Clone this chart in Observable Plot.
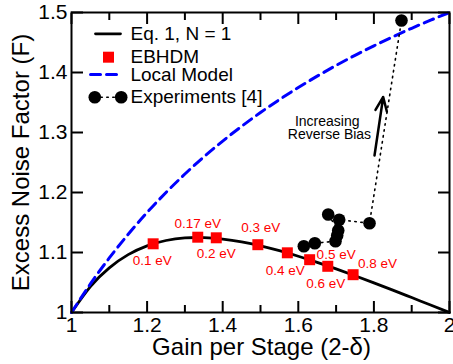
<!DOCTYPE html>
<html><head><meta charset="utf-8">
<script src="https://cdn.jsdelivr.net/npm/d3@7"></script>
<script src="https://cdn.jsdelivr.net/npm/@observablehq/plot@0.6"></script>
<style>body{margin:0;background:#fff}</style>
</head><body><div id="chart"></div>
<script>
// ---- data ----
const eqGain = [1,1.05,1.1,1.15,1.2,1.25,1.3,1.35,1.4,1.45,1.5,1.55,1.6,1.65,1.7,1.75,1.8,1.85,1.9,1.95,2];
const eqF = [1,1.0431,1.0744,1.0964,1.1111,1.12,1.1243,1.1248,1.1224,1.1177,1.1111,1.103,1.0938,1.0836,1.0727,1.0612,1.0494,1.0373,1.0249,1.0125,1];
const localGain = [1,1.05,1.1,1.15,1.2,1.25,1.3,1.35,1.4,1.45,1.5,1.55,1.6,1.65,1.7,1.75,1.8,1.85,1.9,1.95,2];
const localF = [1,1.0476,1.0909,1.1304,1.1667,1.2,1.2308,1.2593,1.2857,1.3103,1.3333,1.3548,1.375,1.3939,1.4118,1.4286,1.4444,1.4595,1.4737,1.4872,1.5];
const ebhdmGain = [1.216,1.334,1.383,1.493,1.571,1.630,1.678,1.745];
const ebhdmF = [1.1145,1.1255,1.1245,1.113,1.0995,1.088,1.077,1.063];
const ebhdmLabels = ["0.1 eV","0.17 eV","0.2 eV","0.3 eV","0.4 eV","0.5 eV","0.6 eV","0.8 eV"];
const expGain = [1.6146,1.6437,1.6984,1.7029,1.7056,1.6791,1.7082,1.7884,1.873];
const expF = [1.1105,1.1155,1.1188,1.1283,1.1367,1.1633,1.1545,1.1488,1.4867];

const xTicks = [1,1.2,1.4,1.6,1.8,2];
const xTickLabels = ["1","1.2","1.4","1.6","1.8","2"];
const xMinorTicks = [1.1,1.3,1.5,1.7,1.9];
const yTicks = [1,1.1,1.2,1.3,1.4,1.5];
const yTickLabels = ["1","1.1","1.2","1.3","1.4","1.5"];

const xTitle = "Gain per Stage (2-δ)";
const yTitle = "Excess Noise Factor (F)";
const legendLabels = ["Eq. 1, N = 1","EBHDM","Local Model","Experiments [4]"];
const annotationLines = ["Increasing","Reverse Bias"];

// ---- placement (styling) ----
const labelOffsets = [[-1,17],[0,-14],[0,16],[3,-17],[-2,17.5],[26.5,-5],[-2,17],[24.5,-11]];
const legendRowF = [1.4645,1.4255,1.3967,1.3588];
const legendSampleGain = [1.0635,1.1296];
const legendMarkGain = 1.0979;
const legendDashGain = [1.0503,1.1296];
const legendCircleGain = [1.0616,1.1315];
const legendTextGain = 1.156;
const arrowPos = [{x1:1.8016,y1:1.2617,x2:1.8246,y2:1.3592}];
const annoPos = [{x:1.6765,y:1.3188},{x:1.6825,y:1.2972}];

const font = "'Liberation Sans', Arial, Helvetica, sans-serif";
const RED = "#ff0000", BLUE = "#0000ff";

const eqData = eqGain.map((g,i)=>({x:g,y:eqF[i]}));
const localData = localGain.map((g,i)=>({x:g,y:localF[i]}));
const ebhdm = ebhdmGain.map((g,i)=>({x:g,y:ebhdmF[i],label:ebhdmLabels[i]}));
const exps = expGain.map((g,i)=>({x:g,y:expF[i]}));
const annoData = annotationLines.map((t,i)=>({...annoPos[i],t}));

const labelMarks = ebhdm.map((d,i)=>Plot.text([d],{x:"x",y:"y",text:"label",fill:RED,fontSize:13.5,
  textAnchor:"middle",lineAnchor:"middle",dx:labelOffsets[i][0],dy:labelOffsets[i][1]}));

const legendTexts = legendLabels.map((t,i)=>({x:legendTextGain,y:legendRowF[i],t}));

const chart = Plot.plot({
  width:453, height:364,
  marginLeft:71, marginRight:4, marginTop:12, marginBottom:52,
  style:{fontFamily:font, background:"white", color:"black"},
  x:{domain:[1,2]},
  y:{domain:[1,1.5]},
  marks:[
    Plot.axisX({anchor:"bottom",ticks:xTicks,tickSize:-11,tickPadding:16,strokeWidth:2,fontSize:21,
      tickFormat:d=>xTickLabels[xTicks.indexOf(d)],label:null}),
    Plot.axisX({anchor:"bottom",ticks:xMinorTicks,tickSize:-7,strokeWidth:2,tickFormat:()=>"",label:null}),
    Plot.axisX({anchor:"top",ticks:xTicks,tickSize:-11,strokeWidth:2,tickFormat:()=>"",label:null}),
    Plot.axisX({anchor:"top",ticks:xMinorTicks,tickSize:-7,strokeWidth:2,tickFormat:()=>"",label:null}),
    Plot.axisY({anchor:"left",ticks:yTicks,tickSize:-12,tickPadding:16,strokeWidth:2,fontSize:21,
      tickFormat:d=>yTickLabels[yTicks.indexOf(d)],label:null}),
    Plot.axisY({anchor:"right",ticks:yTicks,tickSize:-12,strokeWidth:2,tickFormat:()=>"",label:null}),
    Plot.line(eqData,{x:"x",y:"y",stroke:"black",strokeWidth:2.8,curve:"natural"}),
    Plot.line(localData,{x:"x",y:"y",stroke:BLUE,strokeWidth:3,strokeDasharray:"10,6",curve:"natural"}),
    Plot.line(exps,{x:"x",y:"y",stroke:"black",strokeWidth:1.6,strokeDasharray:"1.5,4.5"}),
    Plot.dot(exps,{x:"x",y:"y",r:6.3,fill:"black"}),
    Plot.dot(ebhdm,{x:"x",y:"y",symbol:"square",r:6.2,fill:RED}),
    ...labelMarks,
    Plot.arrow(arrowPos,{x1:"x1",y1:"y1",x2:"x2",y2:"y2",stroke:"black",strokeWidth:2.5,headLength:9,headAngle:45}),
    Plot.text(annoData,{x:"x",y:"y",text:"t",fontSize:14,textAnchor:"middle",lineAnchor:"middle",fill:"black"}),
    // legend
    Plot.line(legendSampleGain.map(g=>({x:g,y:legendRowF[0]})),{x:"x",y:"y",stroke:"black",strokeWidth:2.8}),
    Plot.dot([{x:legendMarkGain,y:legendRowF[1]}],{x:"x",y:"y",symbol:"square",r:6.2,fill:RED}),
    Plot.line(legendDashGain.map(g=>({x:g,y:legendRowF[2]})),{x:"x",y:"y",stroke:BLUE,strokeWidth:3,strokeDasharray:"10,6"}),
    Plot.line(legendCircleGain.map(g=>({x:g,y:legendRowF[3]})),{x:"x",y:"y",stroke:"black",strokeWidth:1.6,strokeDasharray:"1.5,4.5"}),
    Plot.dot(legendCircleGain.map(g=>({x:g,y:legendRowF[3]})),{x:"x",y:"y",r:6.3,fill:"black"}),
    Plot.text(legendTexts,{x:"x",y:"y",text:"t",fontSize:19,textAnchor:"start",lineAnchor:"middle",fill:"black"}),
    // axis titles
    Plot.text([xTitle],{frameAnchor:"bottom",text:d=>d,dy:35,dx:1,fontSize:24,textAnchor:"middle",lineAnchor:"middle",fill:"black"}),
    Plot.text([yTitle],{frameAnchor:"left",text:d=>d,rotate:-90,dx:-50,fontSize:24,textAnchor:"middle",lineAnchor:"middle",fill:"black"}),
    Plot.frame({stroke:"black",strokeWidth:2})
  ]
});
document.getElementById("chart").appendChild(chart);
</script>
</body></html>
